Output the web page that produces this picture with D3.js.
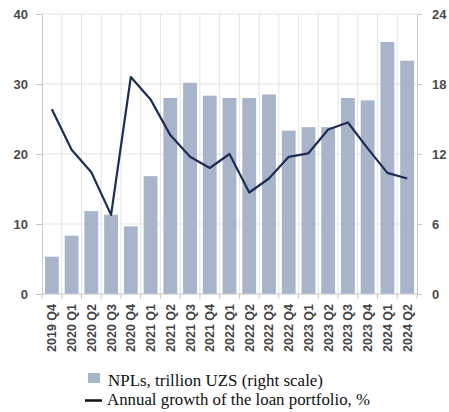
<!DOCTYPE html>
<html><head><meta charset="utf-8">
<script src="https://cdn.jsdelivr.net/npm/d3@7"></script>
<style>body{margin:0;background:#fff}svg{display:block}</style>
</head><body>
<script>
const categories = ["2019 Q4","2020 Q1","2020 Q2","2020 Q3","2020 Q4","2021 Q1","2021 Q2","2021 Q3","2021 Q4","2022 Q1","2022 Q2","2022 Q3","2022 Q4","2023 Q1","2023 Q2","2023 Q3","2023 Q4","2024 Q1","2024 Q2"];
const npls = [3.2,5.0,7.1,6.8,5.8,10.1,16.8,18.1,17.0,16.8,16.8,17.1,14.0,14.3,14.3,16.8,16.6,21.6,20.0];
const growth = [26.4,20.6,17.4,11.3,31.0,27.8,22.7,19.6,18.0,20.0,14.5,16.5,19.6,20.1,23.5,24.5,20.8,17.3,16.5];
const leftTicks = [0,10,20,30,40];
const rightTicks = [0,6,12,18,24];

const W=449,H=412;
const m={l:42,r:32,t:14,b:118};
const svg=d3.select("body").append("svg").attr("width",W).attr("height",H);
const x=d3.scaleBand().domain(categories).range([m.l,W-m.r]).paddingInner(0.3).paddingOuter(0.15);
const xb=d3.scaleBand().domain(categories).range([m.l,W-m.r]);
const yL=d3.scaleLinear().domain([0,40]).range([H-m.b,m.t]);
const yR=d3.scaleLinear().domain([0,24]).range([H-m.b,m.t]);

const grid="#e3e3e3";
svg.append("g").selectAll("line").data(leftTicks.slice(1)).join("line")
 .attr("x1",m.l).attr("x2",W-m.r).attr("y1",d=>yL(d)).attr("y2",d=>yL(d))
 .attr("stroke",grid).attr("stroke-width",1);
svg.append("g").selectAll("line").data(categories.slice(1)).join("line")
 .attr("x1",d=>xb(d)).attr("x2",d=>xb(d)).attr("y1",m.t).attr("y2",H-m.b)
 .attr("stroke",grid).attr("stroke-width",1);

svg.append("g").selectAll("rect").data(categories).join("rect")
 .attr("x",d=>x(d)).attr("width",x.bandwidth())
 .attr("y",(d,i)=>yR(npls[i])).attr("height",(d,i)=>yR(0)-yR(npls[i]))
 .attr("fill","#a8b4ca");

const line=d3.line().x((d,i)=>xb(categories[i])+xb.bandwidth()/2).y(d=>yL(d));
svg.append("path").datum(growth).attr("d",line).attr("fill","none")
 .attr("stroke","#1e2d55").attr("stroke-width",2.2).attr("stroke-linejoin","round");

const axC="#c8c8c8";
const gL=svg.append("g").attr("transform",`translate(${m.l},0)`)
 .call(d3.axisLeft(yL).tickValues(leftTicks).tickSize(6).tickPadding(8));
const gR=svg.append("g").attr("transform",`translate(${W-m.r},0)`)
 .call(d3.axisRight(yR).tickValues(rightTicks).tickSize(5).tickPadding(10));
[gL,gR].forEach(g=>{
 g.selectAll("path,line").attr("stroke",axC);
 g.selectAll("text").attr("font-family","Liberation Sans, Arial, sans-serif").attr("font-size",13).attr("font-weight","bold").attr("fill","#4a4a4a");
});
const gB=svg.append("g").attr("transform",`translate(0,${H-m.b})`);
gB.append("line").attr("x1",m.l).attr("x2",W-m.r).attr("stroke",axC);
gB.selectAll("line.t").data(categories.concat(["end"])).join("line").attr("class","t")
 .attr("x1",(d,i)=>m.l+i*xb.step()).attr("x2",(d,i)=>m.l+i*xb.step()).attr("y1",0).attr("y2",5).attr("stroke",axC);
gB.selectAll("text").data(categories).join("text")
 .attr("transform",d=>`translate(${xb(d)+xb.bandwidth()/2+4.5},10) rotate(-90)`)
 .attr("text-anchor","end")
 .attr("font-family","Liberation Sans, Arial, sans-serif").attr("font-size",12.5).attr("font-weight","bold").attr("fill","#444")
 .text(d=>d);

const lg=svg.append("g").attr("font-family","Liberation Serif, Times New Roman, serif").attr("font-size",16).attr("fill","#111");
lg.append("rect").attr("x",88).attr("y",373).attr("width",12).attr("height",10).attr("fill","#a8b4ca");
lg.append("text").attr("x",108).attr("y",386).attr("textLength",215).attr("lengthAdjust","spacingAndGlyphs").text("NPLs, trillion UZS (right scale)");
lg.append("line").attr("x1",85).attr("x2",102).attr("y1",400.5).attr("y2",400.5).attr("stroke","#111").attr("stroke-width",2.5);
lg.append("text").attr("x",107).attr("y",405).attr("textLength",263).attr("lengthAdjust","spacingAndGlyphs").text("Annual growth of the loan portfolio, %");
</script>
</body></html>
